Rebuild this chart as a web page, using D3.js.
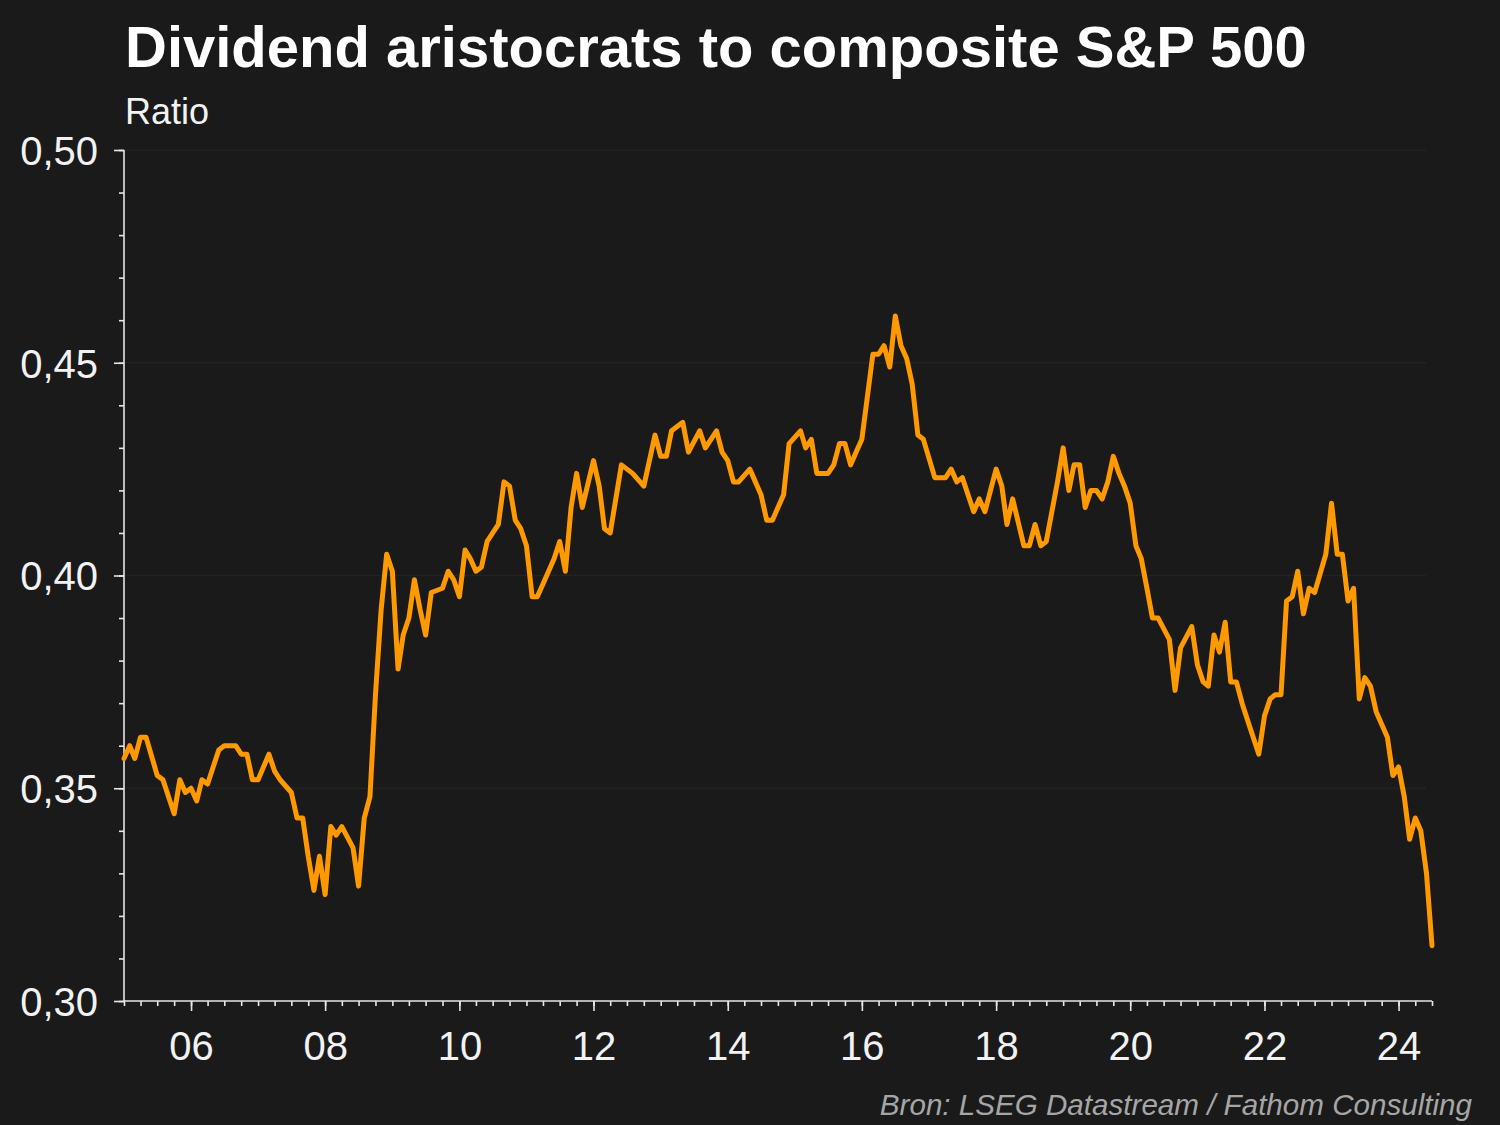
<!DOCTYPE html>
<html>
<head>
<meta charset="utf-8">
<script src="https://cdn.jsdelivr.net/npm/d3@7"></script>
<style>
  body { margin: 0; background: #1a1a1a; }
  svg { display: block; font-family: "Liberation Sans", Arial, sans-serif; }
</style>
</head>
<body>
<div id="chart"></div>
<script>
// chart data (monthly, Dividend aristocrats / S&P 500)
const months = [
  "2005-01","2005-02","2005-03","2005-04","2005-05","2005-07","2005-08","2005-10","2005-11","2005-12",
  "2006-01","2006-02","2006-03","2006-04","2006-06","2006-07","2006-09","2006-10","2006-11","2006-12",
  "2007-01","2007-03","2007-04","2007-05","2007-07","2007-08","2007-09","2007-10","2007-11","2007-12",
  "2008-01","2008-02","2008-03","2008-04","2008-06","2008-07","2008-08","2008-09","2008-10","2008-11","2008-12",
  "2009-01","2009-02","2009-03","2009-04","2009-05","2009-06","2009-07","2009-08","2009-10","2009-11","2009-12",
  "2010-01","2010-02","2010-03","2010-04","2010-05","2010-06","2010-08","2010-09","2010-10","2010-11","2010-12",
  "2011-01","2011-02","2011-03","2011-04","2011-06","2011-07","2011-08","2011-09","2011-10","2011-11",
  "2012-01","2012-02","2012-03","2012-04","2012-06","2012-08","2012-10","2012-12",
  "2013-01","2013-02","2013-03","2013-05","2013-06","2013-08","2013-09","2013-11","2013-12",
  "2014-01","2014-02","2014-03","2014-05","2014-07","2014-08","2014-09","2014-11","2014-12",
  "2015-02","2015-03","2015-04","2015-05","2015-07","2015-08","2015-09","2015-10","2015-11","2015-12",
  "2016-01","2016-03","2016-04","2016-05","2016-06","2016-07","2016-08","2016-09","2016-10","2016-11","2016-12",
  "2017-02","2017-04","2017-05","2017-06","2017-07","2017-09","2017-10","2017-11",
  "2018-01","2018-02","2018-03","2018-04","2018-06","2018-07","2018-08","2018-09","2018-10","2018-12",
  "2019-01","2019-02","2019-03","2019-04","2019-05","2019-06","2019-07","2019-08","2019-09","2019-10","2019-11","2019-12",
  "2020-01","2020-02","2020-03","2020-04","2020-05","2020-06","2020-08","2020-09","2020-10","2020-12",
  "2021-01","2021-02","2021-03","2021-04","2021-05","2021-06","2021-07","2021-08","2021-09","2021-10","2021-12",
  "2022-01","2022-02","2022-03","2022-04","2022-05","2022-06","2022-07","2022-08","2022-09","2022-10","2022-12",
  "2023-01","2023-02","2023-03","2023-04","2023-05","2023-06","2023-07","2023-08","2023-09","2023-11","2023-12",
  "2024-01","2024-02","2024-03","2024-04","2024-05","2024-06","2024-07"
];
const ratio = [
  0.357,0.360,0.357,0.362,0.362,0.353,0.352,0.344,0.352,0.349,
  0.350,0.347,0.352,0.351,0.359,0.360,0.360,0.358,0.358,0.352,
  0.352,0.358,0.354,0.352,0.349,0.343,0.343,0.334,0.326,0.334,
  0.325,0.341,0.339,0.341,0.336,0.327,0.343,0.348,0.372,0.392,0.405,
  0.401,0.378,0.386,0.390,0.399,0.392,0.386,0.396,0.397,0.401,0.399,
  0.395,0.406,0.404,0.401,0.402,0.408,0.412,0.422,0.421,0.413,0.411,
  0.407,0.395,0.395,0.398,0.404,0.408,0.401,0.416,0.424,0.416,
  0.427,0.421,0.411,0.410,0.426,0.424,0.421,0.433,
  0.428,0.428,0.434,0.436,0.429,0.434,0.430,0.434,0.429,
  0.427,0.422,0.422,0.425,0.419,0.413,0.413,0.419,0.431,
  0.434,0.430,0.432,0.424,0.424,0.426,0.431,0.431,0.426,0.429,
  0.432,0.452,0.452,0.454,0.449,0.461,0.454,0.451,0.445,0.433,0.432,
  0.423,0.423,0.425,0.422,0.423,0.415,0.418,0.415,
  0.425,0.421,0.412,0.418,0.407,0.407,0.412,0.407,0.408,0.422,
  0.430,0.420,0.426,0.426,0.416,0.420,0.420,0.418,0.422,0.428,0.424,0.421,
  0.417,0.407,0.404,0.397,0.390,0.390,0.385,0.373,0.383,0.388,
  0.379,0.375,0.374,0.386,0.382,0.389,0.375,0.375,0.370,0.366,0.358,
  0.367,0.371,0.372,0.372,0.394,0.395,0.401,0.391,0.397,0.396,0.405,
  0.417,0.405,0.405,0.394,0.397,0.371,0.376,0.374,0.368,0.362,0.353,
  0.355,0.348,0.338,0.343,0.340,0.330,0.313
];
const yTicks = [0.30, 0.35, 0.40, 0.45, 0.50];
const xTickYears = [2006, 2008, 2010, 2012, 2014, 2016, 2018, 2020, 2022, 2024];

const title = "Dividend aristocrats to composite S&P 500";
const subtitle = "Ratio";
const source = "Bron: LSEG Datastream / Fathom Consulting";

const width = 1500, height = 1125;
const margin = {top: 150, right: 68, bottom: 124, left: 124};
const innerW = width - margin.left - margin.right;
const innerH = height - margin.top - margin.bottom;

const parseMonth = d3.timeParse("%Y-%m");
const data = months.map((m, i) => ({date: parseMonth(m), value: ratio[i]}));

const svg = d3.select("#chart").append("svg")
    .attr("width", width)
    .attr("height", height);

svg.append("rect").attr("width", width).attr("height", height).attr("fill", "#1a1a1a");

const x = d3.scaleTime()
    .domain([new Date(2005, 0, 1), new Date(2024, 6, 1)])
    .range([0, innerW]);
const y = d3.scaleLinear()
    .domain([0.30, 0.50])
    .range([innerH, 0]);

const g = svg.append("g").attr("transform", `translate(${margin.left},${margin.top})`);

// faint gridlines
g.selectAll(".grid").data(yTicks.slice(1)).enter().append("line")
    .attr("class", "grid")
    .attr("x1", 0).attr("x2", innerW - 6)
    .attr("y1", d => y(d)).attr("y2", d => y(d))
    .attr("stroke", "#232323").attr("stroke-width", 1.5);

const fmtY = d => d3.format(".2f")(d).replace(".", ",");

// y axis: minor ticks every 0.01, major + labels every 0.05
const yMinor = g.append("g").call(d3.axisLeft(y).tickValues(d3.range(0.30, 0.5001, 0.01)).tickSize(5).tickFormat(""));
const yMajor = g.append("g").call(d3.axisLeft(y).tickValues(yTicks).tickSize(10).tickPadding(16).tickFormat(fmtY));

// x axis: quarterly minor ticks, longer ticks on even years
const quarters = d3.timeMonth.every(3).range(new Date(2005, 0, 1), new Date(2024, 6, 2));
const xMinor = g.append("g").attr("transform", `translate(0,${innerH})`)
    .call(d3.axisBottom(x).tickValues(quarters).tickSize(5).tickFormat(""));
const xMajor = g.append("g").attr("transform", `translate(0,${innerH})`)
    .call(d3.axisBottom(x).tickValues(xTickYears.map(yr => new Date(yr, 0, 1))).tickSize(10).tickPadding(21)
        .tickFormat(d3.timeFormat("%y")));

[yMinor, yMajor, xMinor, xMajor].forEach(ax => {
    ax.select(".domain").attr("stroke", "#e6e6e6").attr("stroke-width", 1.6);
    ax.selectAll(".tick line").attr("stroke", "#e6e6e6").attr("stroke-width", 1.6);
    ax.selectAll(".tick text").attr("fill", "#f2f2f2").attr("font-size", 40)
        .attr("font-family", "Liberation Sans, Arial, sans-serif");
});
yMajor.selectAll(".tick text").attr("dy", "0.36em");
xMinor.select(".domain").attr("d", `M0,0H${innerW}`);
yMinor.select(".domain").attr("d", `M0,${innerH}V0`);
xMajor.select(".domain").remove();
yMajor.select(".domain").remove();

// the ratio line
const line = d3.line()
    .x(d => x(d.date))
    .y(d => y(d.value));

g.append("path")
    .datum(data)
    .attr("fill", "none")
    .attr("stroke", "#ff9900")
    .attr("stroke-width", 5)
    .attr("stroke-linejoin", "round")
    .attr("stroke-linecap", "round")
    .attr("d", line);

// titles
svg.append("text")
    .attr("x", 125).attr("y", 67)
    .attr("fill", "#ffffff")
    .attr("font-size", 58).attr("font-weight", "bold")
    .text(title);

svg.append("text")
    .attr("x", 125).attr("y", 124)
    .attr("fill", "#f2f2f2")
    .attr("font-size", 36)
    .text(subtitle);

svg.append("text")
    .attr("x", 1472).attr("y", 1115)
    .attr("text-anchor", "end")
    .attr("fill", "#a6a6a6")
    .attr("font-size", 29.6).attr("font-style", "italic")
    .text(source);
</script>
</body>
</html>
